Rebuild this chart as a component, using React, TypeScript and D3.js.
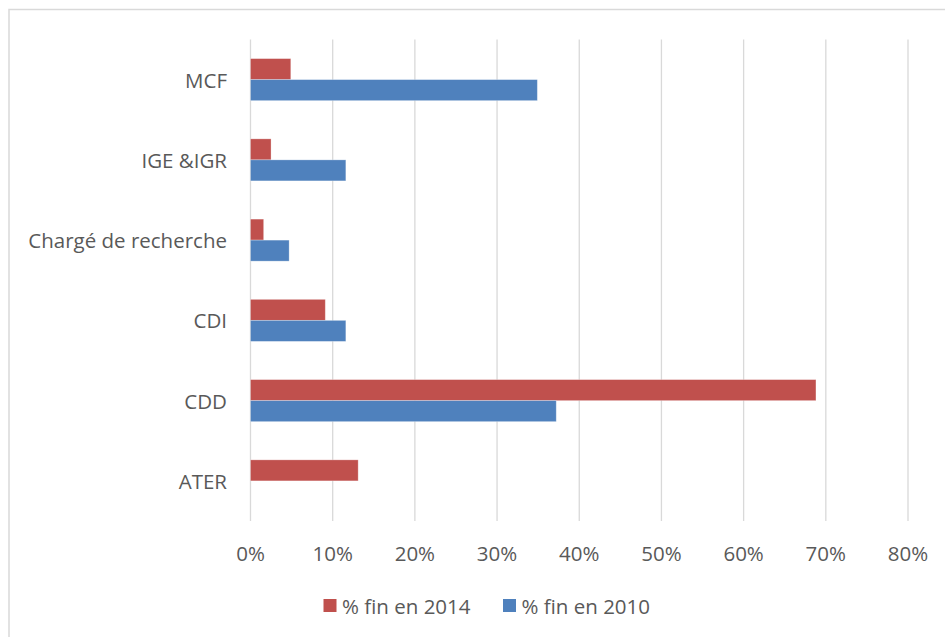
import React from "react";
import * as d3 from "d3";

const categories = ["MCF", "IGE &IGR", "Chargé de recherche", "CDI", "CDD", "ATER"];
const values2014 = [0.049, 0.025, 0.016, 0.091, 0.688, 0.131];
const values2010 = [0.349, 0.116, 0.047, 0.116, 0.372, 0];
const seriesNames = ["% fin en 2014", "% fin en 2010"];
const seriesColors = ["#C0504D", "#4F81BD"];
const xTicks = [0, 0.1, 0.2, 0.3, 0.4, 0.5, 0.6, 0.7, 0.8];

const W = 945;
const H = 637;
const FONT = "'Open Sans', 'Liberation Sans', sans-serif";
const TEXT = "#595959";
const GRID = "#D9D9D9";
const FS = 20.5;

export default function App() {
  const left = 250.5;
  const right = 908;
  const top = 39.5;
  const bottom = 521;
  const x = d3.scaleLinear().domain([0, 0.8]).range([left, right]);
  const y = d3.scaleBand<string>().domain(categories).range([top, bottom]).padding(0);
  const groupH = y.bandwidth() / 1.91;
  const barH = groupH / 2;
  const series = [values2014, values2010];

  return (
    <div style={{ position: "fixed", left: 0, top: 0, width: W, height: H, background: "#fff" }}>
      <svg width={W} height={H} style={{ display: "block" }} fontFamily={FONT}>
        <rect x={9} y={9.5} width={W + 10} height={H + 10} fill="#fff" stroke={GRID} strokeWidth={1.5} />
        {xTicks.map((t) => (
          <g key={t}>
            <line x1={x(t)} x2={x(t)} y1={top} y2={bottom} stroke={GRID} strokeWidth={1.3} />
            <text x={x(t)} y={553} textAnchor="middle" dominantBaseline="central" fontSize={FS} fill={TEXT}>
              {d3.format(".0%")(t)}
            </text>
          </g>
        ))}
        {categories.map((c, i) => {
          const cy = (y(c) as number) + y.bandwidth() / 2;
          return (
            <g key={c}>
              {series.map((vals, s) =>
                vals[i] > 0 ? (
                  <rect
                    key={s}
                    x={x(0)}
                    y={cy - groupH / 2 + s * barH}
                    width={x(vals[i]) - x(0)}
                    height={barH}
                    fill={seriesColors[s]}
                    stroke="#ffffff"
                    strokeOpacity={0.35}
                    strokeWidth={0.8}
                  />
                ) : null
              )}
              <text x={227} y={cy} textAnchor="end" dominantBaseline="central" fontSize={FS} fill={TEXT}>
                {c}
              </text>
            </g>
          );
        })}
        {seriesNames.map((n, s) => {
          const lx = [323.5, 503][s];
          return (
            <g key={n}>
              <rect x={lx} y={599} width={13} height={13} fill={seriesColors[s]} />
              <text x={lx + 18.5} y={605.5} dominantBaseline="central" fontSize={FS} fill={TEXT}>
                {n}
              </text>
            </g>
          );
        })}
      </svg>
    </div>
  );
}
